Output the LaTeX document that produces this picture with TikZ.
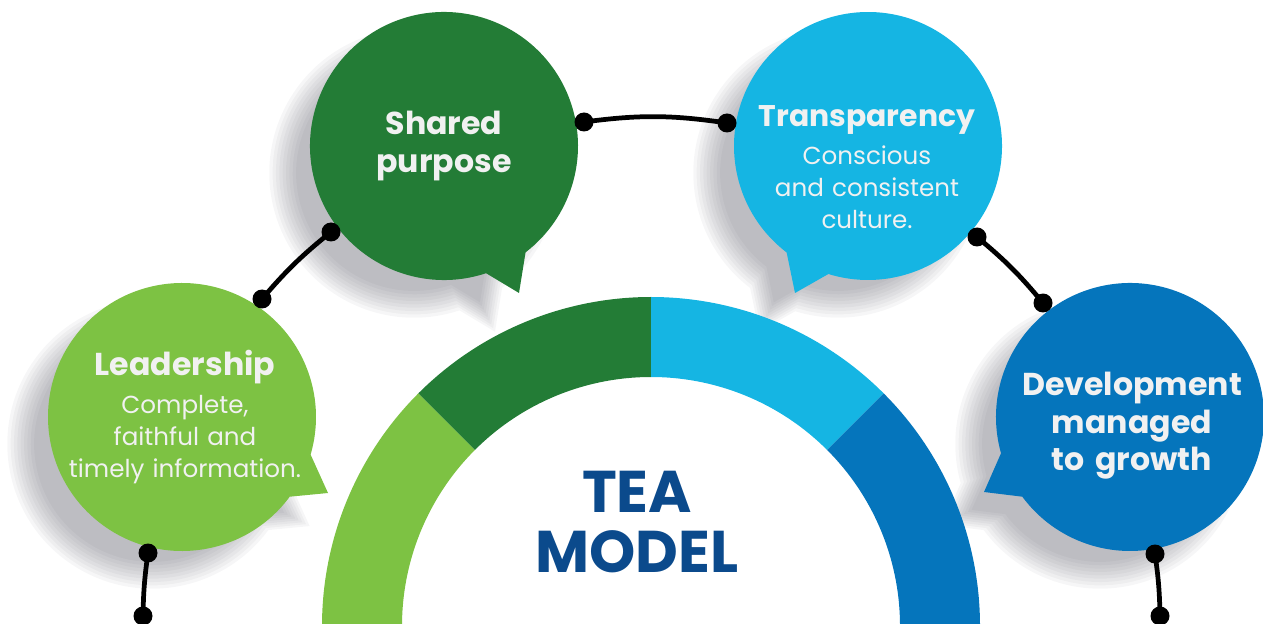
\documentclass[tikz,border=0pt]{standalone}
\usepackage{fontspec}
\setmainfont{Poppins}
\definecolor{lgreen}{HTML}{7DC243}
\definecolor{dgreen}{HTML}{237C36}
\definecolor{lblue}{HTML}{15B5E3}
\definecolor{dblue}{HTML}{0575BC}
\definecolor{navy}{HTML}{0B4A8C}
\definecolor{txt}{HTML}{F1F1F1}
\definecolor{shadowc}{RGB}{55,55,70}
\newcommand\bubbleoutline[4]{(#1:134) arc[start angle=#1, end angle=#2, radius=134] -- (#3,#4) -- cycle}
\newcommand\bubbleshadow[6]{%
  \foreach \s in {1.08,1.055,1.03,1.005,0.98,0.955,0.93,0.905,0.88}{%
    \fill[shadowlayer, shift={(#1-30,#2+27)}, scale=\s] \bubbleoutline{#3}{#4}{#5}{#6};}}
\tikzset{
  shadowlayer/.style={fill=shadowc, opacity=0.045},
  bubbletext/.style={text=txt, align=center, text width=8cm, anchor=base, inner sep=0pt},
  titletext/.style={bubbletext, font=\bfseries\fontsize{18}{21.3}\selectfont},
  bodytext/.style={bubbletext, font=\fontsize{14}{18.2}\selectfont},
  dotnode/.style={circle, fill=black, inner sep=0pt, minimum size=0.38cm},
  conn/.style={line width=2.7pt, black},
}
\begin{document}
\begin{tikzpicture}[x=0.02cm, y=-0.02cm]
\useasboundingbox (0,0) rectangle (1263,624);
% shadows
\bubbleshadow{444}{146}{71.7}{412.5}{75}{147}
\bubbleshadow{868}{146}{127.4}{467.2}{-73}{147}
\bubbleshadow{182}{417}{36.5}{376.3}{146}{76}
\bubbleshadow{1130}{417}{164.3}{503.5}{-146}{75}
% ring
\begin{scope}[shift={(651,626)}]
  \fill[lgreen] (180:329) arc[start angle=180,end angle=225,radius=329] -- (225:249) arc[start angle=225,end angle=180,radius=249] -- cycle;
  \fill[dgreen] (225:329) arc[start angle=225,end angle=270,radius=329] -- (270:249) arc[start angle=270,end angle=225,radius=249] -- cycle;
  \fill[lblue] (270:329) arc[start angle=270,end angle=315,radius=329] -- (315:249) arc[start angle=315,end angle=270,radius=249] -- cycle;
  \fill[dblue] (315:329) arc[start angle=315,end angle=360,radius=329] -- (360:249) arc[start angle=360,end angle=315,radius=249] -- cycle;
\end{scope}
% bubbles
\fill[dgreen, shift={(444,146)}] \bubbleoutline{71.7}{412.5}{75}{147};
\fill[lblue, shift={(868,146)}] \bubbleoutline{127.4}{467.2}{-73}{147};
\fill[lgreen, shift={(182,417)}] \bubbleoutline{36.5}{376.3}{146}{76};
\fill[dblue, shift={(1130,417)}] \bubbleoutline{164.3}{503.5}{-146}{75};
% dots
\node[dotnode] (d1) at (584,122) {};
\node[dotnode] (d2) at (727,123) {};
\node[dotnode] (d3) at (262,299) {};
\node[dotnode] (d4) at (331,232) {};
\node[dotnode] (d5) at (977,237) {};
\node[dotnode] (d6) at (1043,303) {};
\node[dotnode] (d7) at (143,616) {};
\node[dotnode] (d8) at (148,553) {};
\node[dotnode] (d9) at (1155,554) {};
\node[dotnode] (d10) at (1160,616) {};
\draw[conn] (d1.center) to[bend left=8] (d2.center);
\draw[conn] (d3.center) to[bend left=5.4] (d4.center);
\draw[conn] (d5.center) to[bend left=5.3] (d6.center);
\draw[conn] (d7.center) to[bend left=3.5] (d8.center);
\draw[conn] (d9.center) to[bend left=3.5] (d10.center);
% texts
\node[titletext] (tsp) at (444,135) {Shared\\purpose};
\node[bodytext] (ttr) at (867,127) {{\bfseries\fontsize{17}{21.3}\selectfont Transparency}\\[3.4pt]Conscious\\and consistent\\culture.};
\node[bodytext] (tld) at (185,376) {{\bfseries\fontsize{18}{21.3}\selectfont Leadership}\\[3.4pt]Complete,\\faithful and\\timely information.};
\node[titletext] (tdv) at (1132,396) {Development\\managed\\to growth};
\node[bubbletext, text=navy, font=\bfseries\fontsize{33.5}{34.2}\selectfont] (tea) at (637,512) {TEA\\MODEL};
\end{tikzpicture}
\end{document}
